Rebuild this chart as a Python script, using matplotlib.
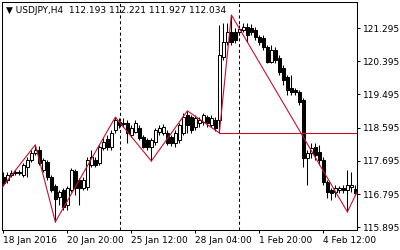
import matplotlib
matplotlib.use("Agg")
import matplotlib.pyplot as plt

# USDJPY H4 candles -----------------------------------------------------------
opens = [117.26, 117.18, 117.31, 117.37, 117.39, 117.31, 117.53, 117.72, 117.91, 117.99,
         117.45, 117.66, 117.26, 117.01, 116.72, 116.91, 116.50, 116.91, 117.42, 117.18,
         116.96, 116.99, 117.58, 117.72, 117.64, 118.04, 118.29, 118.07, 118.53, 118.75,
         118.72, 118.72, 118.40, 118.48, 118.59, 118.34, 118.26, 118.07, 118.21, 118.48,
         118.45, 118.45, 118.34, 118.18, 118.26, 118.45, 118.94, 118.88, 118.61, 118.72,
         118.75, 118.88, 118.67, 118.80, 118.80, 120.51, 120.92, 121.19, 121.19, 121.19,
         121.24, 121.32, 121.30, 121.24, 121.05, 121.02, 120.78, 120.37, 120.70, 120.48,
         120.21, 119.97, 119.67, 119.62, 119.56, 119.34, 117.77, 117.91, 118.07, 117.93,
         117.72, 117.12, 116.91, 116.85, 116.91, 116.96, 116.91, 116.99, 116.93]
highs = [117.39, 117.39, 117.45, 117.45, 117.45, 117.64, 117.80, 117.99, 118.13, 118.10,
         117.77, 117.72, 117.31, 117.07, 116.91, 116.96, 117.01, 117.50, 117.47, 117.23,
         117.26, 117.80, 117.99, 117.80, 118.13, 118.32, 118.40, 118.53, 118.88, 118.86,
         118.86, 118.80, 118.67, 118.80, 118.67, 118.40, 118.32, 118.32, 118.59, 118.67,
         118.69, 118.53, 118.40, 118.53, 118.72, 118.99, 119.05, 118.94, 118.94, 118.88,
         118.99, 118.94, 118.94, 118.88, 121.38, 121.43, 121.43, 121.65, 121.30, 121.38,
         121.43, 121.43, 121.40, 121.32, 121.11, 121.11, 120.83, 120.83, 120.78, 120.56,
         120.29, 120.02, 120.02, 119.67, 119.62, 119.40, 117.99, 118.18, 118.18, 118.13,
         117.80, 117.18, 116.96, 117.04, 117.01, 117.04, 117.45, 117.39, 117.04]
lows = [117.01, 117.09, 117.26, 117.31, 117.31, 117.26, 117.26, 117.66, 117.85, 117.58,
        117.39, 117.18, 116.85, 116.04, 116.50, 116.36, 116.36, 116.85, 116.77, 116.50,
        116.91, 116.91, 117.53, 117.53, 117.58, 117.99, 117.99, 117.99, 118.45, 118.59,
        118.61, 118.18, 118.34, 118.45, 118.26, 118.04, 117.99, 117.69, 118.13, 118.40,
        118.40, 118.13, 118.10, 118.07, 118.18, 118.40, 118.45, 118.45, 118.53, 118.61,
        118.67, 118.61, 118.61, 118.50, 118.45, 120.43, 120.83, 120.83, 120.89, 121.11,
        121.19, 120.92, 121.11, 120.97, 120.83, 120.70, 120.35, 120.35, 120.35, 120.02,
        119.75, 119.48, 119.48, 119.48, 119.21, 117.53, 117.04, 117.77, 117.72, 117.58,
        117.04, 116.69, 116.63, 116.72, 116.82, 116.82, 116.31, 116.85, 116.77]
closes = [117.09, 117.31, 117.37, 117.39, 117.37, 117.58, 117.72, 117.91, 117.99, 117.64,
          117.72, 117.26, 116.91, 116.66, 116.85, 116.44, 116.96, 117.45, 116.96, 116.96,
          117.18, 117.72, 117.80, 117.58, 118.07, 118.21, 118.07, 118.45, 118.80, 118.67,
          118.69, 118.45, 118.59, 118.72, 118.32, 118.07, 118.07, 118.26, 118.53, 118.59,
          118.61, 118.18, 118.18, 118.45, 118.67, 118.88, 118.67, 118.53, 118.86, 118.80,
          118.94, 118.72, 118.86, 118.59, 120.56, 120.92, 121.19, 120.92, 120.97, 121.27,
          121.32, 121.11, 121.19, 121.05, 120.92, 120.78, 120.37, 120.70, 120.43, 120.10,
          119.89, 119.62, 119.56, 119.56, 119.29, 117.77, 117.91, 118.04, 117.85, 117.72,
          117.12, 116.85, 116.82, 116.96, 116.96, 116.91, 117.04, 117.04, 116.82]

# ZigZag indicator vertices (bar index, price)
zz_idx = [-1, 8, 13, 28, 37, 46, 54, 57, 86, 88.4]
zz_price = [116.88, 118.13, 116.04, 118.88, 117.69, 119.05, 118.45, 121.65, 116.31, 116.85]
level_start = 54
level_price = 118.45

separators = [29.2, 58.9]

ytick_vals = [121.295, 120.395, 119.495, 118.595, 117.695, 116.795, 115.895]
xtick_pos = [-0.15, 15.85, 31.85, 47.85, 63.85, 79.85]
xtick_labels = ["18 Jan 2016", "20 Jan 20:00", "25 Jan 12:00", "28 Jan 04:00",
                "1 Feb 20:00", "4 Feb 12:00"]

header = "\u25bc USDJPY,H4  112.193 112.221 111.927 112.034"

# Plot ------------------------------------------------------------------------
plt.rcParams['font.family'] = ['DejaVu Sans']
fig = plt.figure(figsize=(4, 2.5), dpi=100)
ax = fig.add_axes([0.005, 0.08, 0.8875, 0.912])

red = '#c8102e'
bw = 0.7
for i, (o, h, l, c) in enumerate(zip(opens, highs, lows, closes)):
    ax.vlines(i, l, h, color='black', linewidth=0.75, zorder=2)
    bottom, top = min(o, c), max(o, c)
    height = max(top - bottom, 0.012)
    face = 'white' if c >= o else 'black'
    ax.bar(i, height, bottom=bottom, width=bw, color=face, edgecolor='black',
           linewidth=0.75, zorder=3)

ax.plot(zz_idx, zz_price, color=red, linewidth=0.8, zorder=4)
ax.plot([level_start, 100], [level_price, level_price], color=red, linewidth=0.8, zorder=4)

for s in separators:
    ax.axvline(s, color='black', linewidth=0.75, linestyle=(0, (3, 2.5)), zorder=1)

ax.set_xlim(-0.33, 88.4)
ax.set_ylim(115.82, 122.0)

ax.yaxis.tick_right()
ax.set_yticks(ytick_vals)
ax.set_yticklabels([f"{v:.3f}" for v in ytick_vals])
ax.set_xticks(xtick_pos)
ax.set_xticklabels(xtick_labels, ha='left')
ax.tick_params(axis='both', labelsize=6.5, length=2.5, width=0.75, direction='out',
               colors='black', pad=2)

for sp in ax.spines.values():
    sp.set_linewidth(0.75)
    sp.set_color('black')

ax.text(0.01, 0.982, header, transform=ax.transAxes, fontsize=6.5,
        ha='left', va='top', color='black')

fig.savefig('out.png', dpi=100, facecolor='white')
